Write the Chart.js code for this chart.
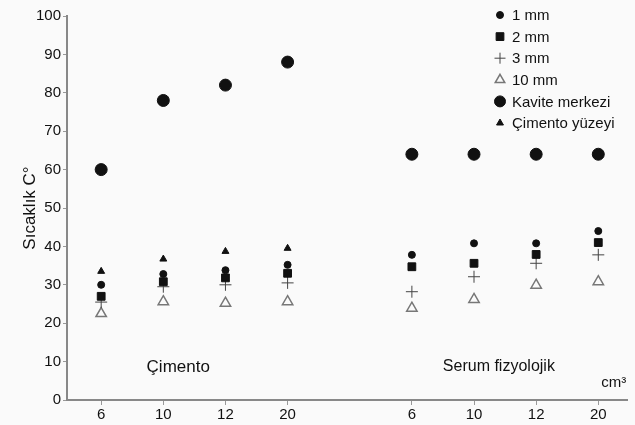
<!DOCTYPE html>
<html>
<head>
<meta charset="utf-8">
<script src="https://cdn.jsdelivr.net/npm/chart.js@4.4.1/dist/chart.umd.min.js"></script>
<style>
  html, body { margin: 0; padding: 0; background: #fafafa; }
  #wrap { width: 635px; height: 425px; }
</style>
</head>
<body>
<div id="wrap"><canvas id="chart" width="635" height="425"></canvas></div>
<script>
// x positions: two groups of volumes (cm3), one empty slot between them
const volumes = ['6', '10', '12', '20', '6', '10', '12', '20'];
const xPos = [0, 1, 2, 3, 5, 6, 7, 8];
const yTicks = [0, 10, 20, 30, 40, 50, 60, 70, 80, 90, 100];

// temperatures (°C), Çimento group then Serum fizyolojik group
const mm1    = [30, 32.8, 33.8, 35.2, 37.8, 40.8, 40.8, 44];
const mm2    = [27, 30.8, 31.8, 33, 34.7, 35.6, 37.9, 41];
const mm3    = [25.5, 29.5, 30, 30.5, 28.2, 32.1, 35.6, 37.8];
const mm10   = [22.5, 25.6, 25.2, 25.6, 23.9, 26.2, 29.9, 30.8];
const kavite = [60, 78, 82, 88, 64, 64, 64, 64];
const yuzey  = [33.5, 36.7, 38.7, 39.5, null, null, null, null];

function pts(vals) {
  return xPos.map((x, i) => ({ x: x, y: vals[i] })).filter(p => p.y !== null);
}

const datasets = [
  { label: '1 mm', data: pts(mm1), pointStyle: 'circle', pointRadius: 3.5,
    backgroundColor: '#111', borderColor: '#111', borderWidth: 1 },
  { label: '2 mm', data: pts(mm2), pointStyle: 'rect', pointRadius: 5.5,
    backgroundColor: '#111', borderColor: '#111', borderWidth: 1 },
  { label: '3 mm', data: pts(mm3), pointStyle: 'cross', pointRadius: 6,
    backgroundColor: '#444', borderColor: '#444', borderWidth: 1 },
  { label: '10 mm', data: pts(mm10), pointStyle: 'triangle', pointRadius: 6,
    backgroundColor: 'rgba(0,0,0,0)', borderColor: '#777', borderWidth: 1.5 },
  { label: 'Kavite merkezi', data: pts(kavite), pointStyle: 'circle', pointRadius: 6,
    backgroundColor: '#111', borderColor: '#111', borderWidth: 1 },
  { label: 'Çimento yüzeyi', data: pts(yuzey), pointStyle: 'triangle', pointRadius: 4,
    backgroundColor: '#111', borderColor: '#111', borderWidth: 1 }
];

// legend drawn at the top right, as in the original
const legendPlugin = {
  id: 'cornerLegend',
  afterDraw(chart) {
    const ctx = chart.ctx;
    ctx.save();
    ctx.font = '15px "Liberation Sans", Arial, sans-serif';
    ctx.textBaseline = 'middle';
    ctx.textAlign = 'left';
    chart.data.datasets.forEach((ds, i) => {
      const y = 15 + i * 21.6;
      ctx.fillStyle = ds.backgroundColor;
      ctx.strokeStyle = ds.borderColor;
      ctx.lineWidth = ds.borderWidth;
      Chart.helpers.drawPoint(ctx, {
        pointStyle: ds.pointStyle,
        radius: Math.min(ds.pointRadius, 5.5),
        borderWidth: ds.borderWidth,
        rotation: 0
      }, 500, y);
      ctx.fillStyle = '#111';
      ctx.fillText(ds.label, 512, y + 1);
    });
    ctx.restore();
  }
};

// group names and unit
const labelPlugin = {
  id: 'groupLabels',
  afterDraw(chart) {
    const ctx = chart.ctx;
    const xs = chart.scales.x, ys = chart.scales.y;
    ctx.save();
    ctx.fillStyle = '#111';
    ctx.textBaseline = 'middle';
    ctx.textAlign = 'center';
    ctx.font = '17px "Liberation Sans", Arial, sans-serif';
    ctx.fillText('Çimento', xs.getPixelForValue(1.24), ys.getPixelForValue(8.6));
    ctx.font = '16px "Liberation Sans", Arial, sans-serif';
    ctx.fillText('Serum fizyolojik', xs.getPixelForValue(6.4), ys.getPixelForValue(8.6));
    ctx.font = '15px "Liberation Sans", Arial, sans-serif';
    ctx.fillText('cm³', xs.getPixelForValue(8.25), ys.getPixelForValue(4.4));
    ctx.restore();
  }
};

new Chart(document.getElementById('chart'), {
  type: 'scatter',
  data: { datasets: datasets },
  options: {
    responsive: false,
    animation: false,
    layout: { padding: { top: 16, right: 7, left: 0, bottom: 0 } },
    plugins: { legend: { display: false }, tooltip: { enabled: false } },
    scales: {
      x: {
        type: 'linear',
        min: -0.55,
        max: 8.47,
        afterFit: s => { s.height = 25; },
        afterBuildTicks: s => { s.ticks = xPos.map(v => ({ value: v })); },
        ticks: {
          autoSkip: false,
          maxRotation: 0,
          padding: 1,
          color: '#111',
          font: { family: '"Liberation Sans", Arial, sans-serif', size: 15 },
          callback: (v, i) => volumes[i]
        },
        grid: { drawOnChartArea: false, tickLength: 5, color: '#999' },
        border: { color: '#888', width: 2 }
      },
      y: {
        min: 0,
        max: 100,
        afterFit: s => { s.width = 67; },
        afterBuildTicks: s => { s.ticks = yTicks.map(v => ({ value: v })); },
        ticks: {
          padding: 2,
          color: '#111',
          font: { family: '"Liberation Sans", Arial, sans-serif', size: 15 }
        },
        title: {
          display: true,
          text: 'Sıcaklık C°',
          color: '#111',
          padding: { top: 20, bottom: 0 },
          font: { family: '"Liberation Sans", Arial, sans-serif', size: 17 }
        },
        grid: { drawOnChartArea: false, tickLength: 4, color: '#999' },
        border: { color: '#888', width: 2 }
      }
    }
  },
  plugins: [legendPlugin, labelPlugin]
});
</script>
</body>
</html>
